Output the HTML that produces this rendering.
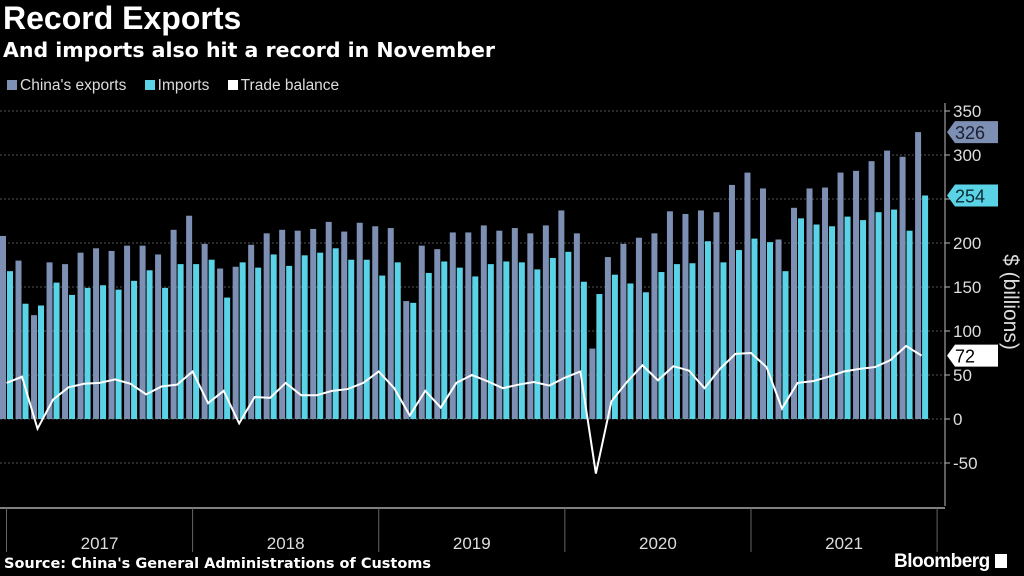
<!DOCTYPE html>
<html><head><meta charset="utf-8"><style>
html,body{margin:0;padding:0;background:#000;}
body{width:1024px;height:576px;overflow:hidden;font-family:"Liberation Sans",sans-serif;color:#fff;position:relative;}
.t{position:absolute;white-space:nowrap;}
</style></head><body>
<div class="t" style="left:3px;top:0px;font-size:32px;font-weight:bold;">Record Exports</div>
<div class="t" style="left:3px;top:38px;font-size:20.5px;font-weight:bold;font-family:'DejaVu Sans',sans-serif;">And imports also hit a record in November</div>
<div class="t" style="left:7px;top:77px;font-size:15.5px;color:#ddd;">
<span><span style="display:inline-block;width:10px;height:10px;background:#7d8fb3;margin-right:3px"></span>China's exports</span>
<span style="margin-left:14px"><span style="display:inline-block;width:10px;height:10px;background:#5ad3e6;margin-right:3px"></span>Imports</span>
<span style="margin-left:14px"><span style="display:inline-block;width:10px;height:10px;background:#fff;margin-right:3px"></span>Trade balance</span>
</div>
<svg id="chart" width="1024" height="576" style="position:absolute;left:0;top:0" xmlns="http://www.w3.org/2000/svg"></svg>
<div class="t" style="left:4px;top:556px;font-size:14.5px;font-weight:bold;font-family:'DejaVu Sans',sans-serif;color:#fff;">Source: China's General Administrations of Customs</div>
<div class="t" style="left:894px;top:551px;font-size:19px;font-weight:bold;letter-spacing:-0.5px;">Bloomberg <span style="display:inline-block;width:12px;height:14px;background:#fff;vertical-align:-1px"></span></div>
<script>
const years = ["2017","2018","2019","2020","2021"];
const yTicks = [-50,0,50,100,150,200,250,300,350];
const exportsV = [208,180,118,178,176,189,194,191,197,197,187,215,231,199,171,173,198,211,215,214,216,224,213,223,219,217,134,197,193,212,212,220,214,217,211,220,237,211,80,184,199,206,211,236,233,237,235,266,280,262,204,240,262,263,280,282,293,305,298,326];
const importsV = [168,131,129,155,141,149,152,147,157,169,149,176,176,181,138,178,172,187,174,186,189,194,181,181,163,178,132,166,179,172,162,176,179,178,170,183,190,156,142,164,154,144,167,176,177,202,178,192,205,201,168,228,221,219,230,226,235,238,214,254];
const balanceV = [41,48,-11,22,36,40,41,45,40,28,37,39,54,18,32,-5,25,24,41,27,27,32,34,41,54,35,4,32,13,41,50,43,35,39,42,38,47,54,-62,20,42,61,44,60,55,35,57,74,75,59,12,41,43,48,54,57,59,67,83,72];
const svg = document.getElementById('chart');
const NS = 'http://www.w3.org/2000/svg';
const x = i => 6.5 + i * 15.51;
const y = v => 419 - v * 0.88;
function mk(tag, attrs, parent) {
  const e = document.createElementNS(NS, tag);
  for (const k in attrs) e.setAttribute(k, attrs[k]);
  (parent || svg).appendChild(e);
  return e;
}
yTicks.forEach(t => {
  const g = mk('line', {x1:0, x2:945, y1:y(t), y2:y(t), stroke:'#555', 'stroke-width':1, 'stroke-dasharray':'2,2'});
  
  
  const tk = mk('line', {x1:945, x2:950, y1:y(t), y2:y(t), stroke:'#bbb'});
  
  
  const lb = mk('text', {x:953, y:y(t)+6, fill:'#ddd', 'font-size':17, 'font-family':'Liberation Sans, sans-serif'});
  lb.textContent = t;
  
  
});
const ax = mk('line', {x1:945, x2:945, y1:103, y2:506, stroke:'#bbb'});


const yt = mk('text', {x:0, y:0, fill:'#ddd', 'font-size':21, 'text-anchor':'middle', 'font-family':'Liberation Sans, sans-serif', transform:'translate(1004,302) rotate(90)'});
yt.textContent = '$ (billions)';


exportsV.forEach((v, i) => {
  const r = mk('rect', {x:x(i)-6.5, y:Math.min(y(v),y(0)), width:6, height:Math.abs(y(0)-y(v)), fill:'#7d8fb3'});
  
  
});
importsV.forEach((v, i) => {
  const r = mk('rect', {x:x(i)+0.5, y:Math.min(y(v),y(0)), width:6, height:Math.abs(y(0)-y(v)), fill:'#5ad3e6'});
  
  
});
const pl = mk('polyline', {points:balanceV.map((v,i)=>x(i)+','+y(v)).join(' '), fill:'none', stroke:'#fff', 'stroke-width':2});


const xa = mk('line', {x1:0, x2:945, y1:508, y2:508, stroke:'#aaa', 'stroke-width':1.5});


for (let k = 0; k <= years.length; k++) {
  const s = mk('line', {x1:x(k*12), x2:x(k*12), y1:508, y2:552, stroke:'#666'});
  
  
}
years.forEach((yr, k) => {
  const t = mk('text', {x:(x(k*12)+x(k*12+12))/2, y:549, fill:'#ddd', 'font-size':17, 'text-anchor':'middle', 'font-family':'Liberation Sans, sans-serif'});
  t.textContent = yr;
  
  
});
function tag(v, fill, txtFill, name) {
  const yy = y(v);
  const p = mk('path', {d:`M947 ${yy} L955 ${yy-11} L998 ${yy-11} L998 ${yy+11} L955 ${yy+11} Z`, fill:fill});
  
  
  const t = mk('text', {x:955, y:yy+7, fill:txtFill, 'font-size':18, 'font-family':'Liberation Sans, sans-serif'});
  t.textContent = v;
  
  
}
tag(exportsV[exportsV.length-1], '#7d8fb3', '#1a2030', 'last-export-label');
tag(importsV[importsV.length-1], '#5ad3e6', '#0a2a30', 'last-import-label');
tag(balanceV[balanceV.length-1], '#fff', '#000', 'last-balance-label');
</script>
</body></html>
